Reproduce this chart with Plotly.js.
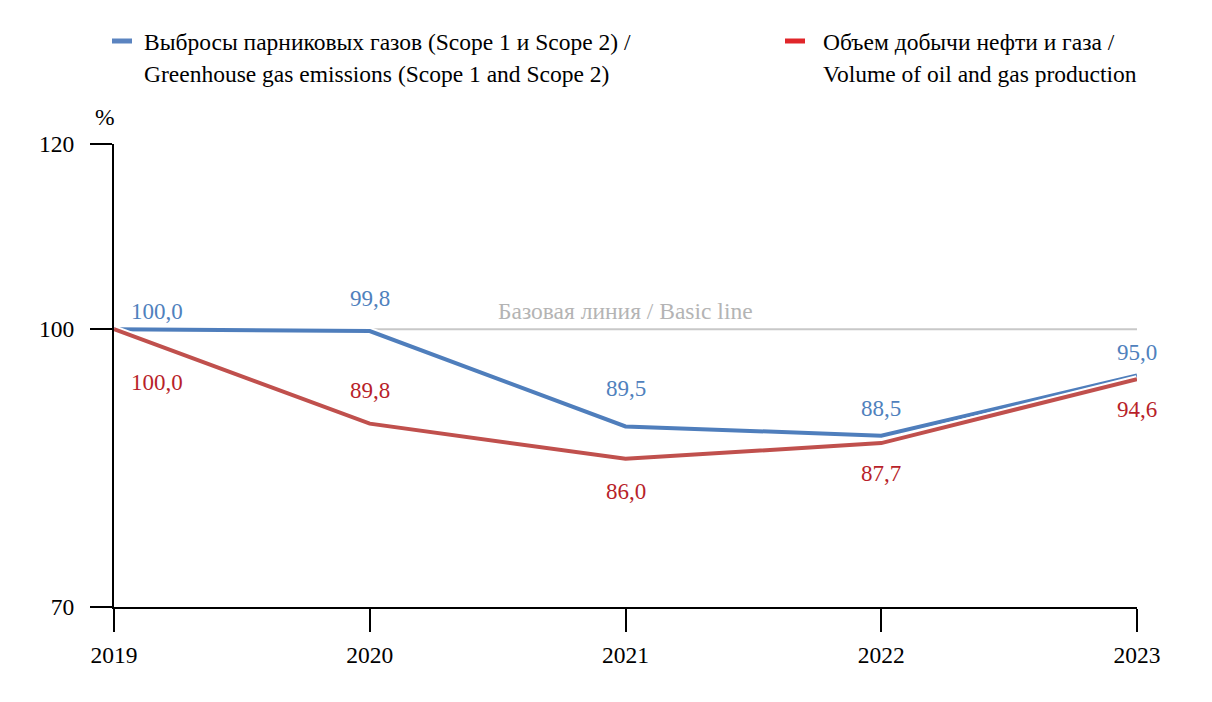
<!DOCTYPE html>
<html>
<head>
<meta charset="utf-8">
<script src="https://cdn.plot.ly/plotly-3.0.1.min.js"></script>
<style>html,body{margin:0;padding:0;background:#fff;}#chart{width:1212px;height:702px;}</style>
</head>
<body>
<div id="chart"></div>
<script>
const years = [2019, 2020, 2021, 2022, 2023];
const emissions = [100.0, 99.8, 89.5, 88.5, 95.0];
const production = [100.0, 89.8, 86.0, 87.7, 94.6];
const emissionsName = ['Выбросы парниковых газов (Scope 1 и Scope 2) /', 'Greenhouse gas emissions (Scope 1 and Scope 2)'];
const productionName = ['Объем добычи нефти и газа /', 'Volume of oil and gas production'];
const baseValue = 100;
const baseLabel = 'Базовая линия / Basic line';
const yTicks = [70, 100, 120];

const FONT = 'Liberation Serif';
const FS = 23.5;
const FS_LBL = 23;
const BLUE = '#4f7ebc';
const RED = '#c0504d';
const BLUE_TXT = '#4f81bd';
const RED_TXT = '#b81f2a';

const W = 1212, H = 702;
const M = {l: 114, r: 75, t: 144, b: 95};
const pw = W - M.l - M.r, ph = H - M.t - M.b;
const px = x => (x - M.l) / pw;
const py = y => (H - M.b - y) / ph;

const fmt = v => v.toFixed(1).replace('.', ',');

// label offsets (pixels) – styling only
const blueShift = [[43, 18], [0, 33], [0, 38], [0, 27], [0, 23]];
const redShift = [[43, -53], [0, 33], [0, -33], [0, -30], [0, -30]];

const traces = [
  {x: years, y: emissions, mode: 'lines', line: {color: '#ffffff', width: 8}, hoverinfo: 'skip', cliponaxis: false},
  {x: years, y: emissions, mode: 'lines', line: {color: BLUE, width: 4}, cliponaxis: false},
  {x: years, y: production, mode: 'lines', line: {color: '#ffffff', width: 8}, hoverinfo: 'skip', cliponaxis: false},
  {x: years, y: production, mode: 'lines', line: {color: RED, width: 4}, cliponaxis: false}
];

const annotations = [];
years.forEach((yr, i) => {
  annotations.push({x: yr, y: emissions[i], xref: 'x', yref: 'y', text: fmt(emissions[i]), showarrow: false,
    xanchor: 'center', yanchor: 'middle',
    xshift: blueShift[i][0], yshift: blueShift[i][1], font: {family: FONT, size: FS_LBL, color: BLUE_TXT}});
  annotations.push({x: yr, y: production[i], xref: 'x', yref: 'y', text: fmt(production[i]), showarrow: false,
    xanchor: 'center', yanchor: 'middle',
    xshift: redShift[i][0], yshift: redShift[i][1], font: {family: FONT, size: FS_LBL, color: RED_TXT}});
});
annotations.push({x: (years[0] + years[years.length - 1]) / 2, y: baseValue, xref: 'x', yref: 'y', text: baseLabel,
  showarrow: false, xanchor: 'center', yanchor: 'middle', yshift: 18, font: {family: FONT, size: FS, color: '#b4b4b4'}});
annotations.push({x: px(105), y: py(117), xref: 'paper', yref: 'paper', text: '%', showarrow: false,
  xanchor: 'center', yanchor: 'middle', font: {family: FONT, size: FS, color: '#000'}});
// legend text
[[emissionsName, 142], [productionName, 821]].forEach(([lines, lx]) => {
  lines.forEach((t, k) => {
    annotations.push({x: px(lx), y: py(42 + k * 32), xref: 'paper', yref: 'paper', xanchor: 'left', yanchor: 'middle',
      text: t, showarrow: false, font: {family: FONT, size: FS, color: '#000'}});
  });
});

const shapes = [
  {type: 'line', xref: 'x', yref: 'y', x0: years[0], x1: years[years.length - 1], y0: baseValue, y1: baseValue,
    line: {color: '#c8c8c8', width: 2}, layer: 'below'},
  {type: 'line', xref: 'paper', yref: 'paper', x0: px(112), x1: px(132), y0: py(41), y1: py(41), line: {color: '#5b84c0', width: 5}},
  {type: 'line', xref: 'paper', yref: 'paper', x0: px(785), x1: px(805), y0: py(41), y1: py(41), line: {color: '#e0262a', width: 5}}
];

const layout = {
  width: W, height: H,
  margin: M,
  paper_bgcolor: '#fff', plot_bgcolor: '#fff',
  showlegend: false,
  font: {family: FONT, size: FS, color: '#000'},
  xaxis: {range: [years[0], years[years.length - 1]], tickvals: years, ticktext: years.map(String),
    showgrid: false, zeroline: false, showline: true, linecolor: '#000', linewidth: 2,
    ticks: 'outside', ticklen: 23, tickwidth: 2, tickcolor: '#000', ticklabelstandoff: 3,
    tickfont: {family: FONT, size: FS, color: '#000'}, fixedrange: true},
  yaxis: {range: [70, 120], tickvals: yTicks, ticktext: yTicks.map(String),
    showgrid: false, zeroline: false, showline: true, linecolor: '#000', linewidth: 2,
    ticks: 'outside', ticklen: 22, tickwidth: 2, tickcolor: '#000', ticklabelstandoff: 11,
    tickfont: {family: FONT, size: FS, color: '#000'}, fixedrange: true},
  annotations: annotations,
  shapes: shapes
};

Plotly.newPlot('chart', traces, layout, {displayModeBar: false, staticPlot: true});
</script>
</body>
</html>
